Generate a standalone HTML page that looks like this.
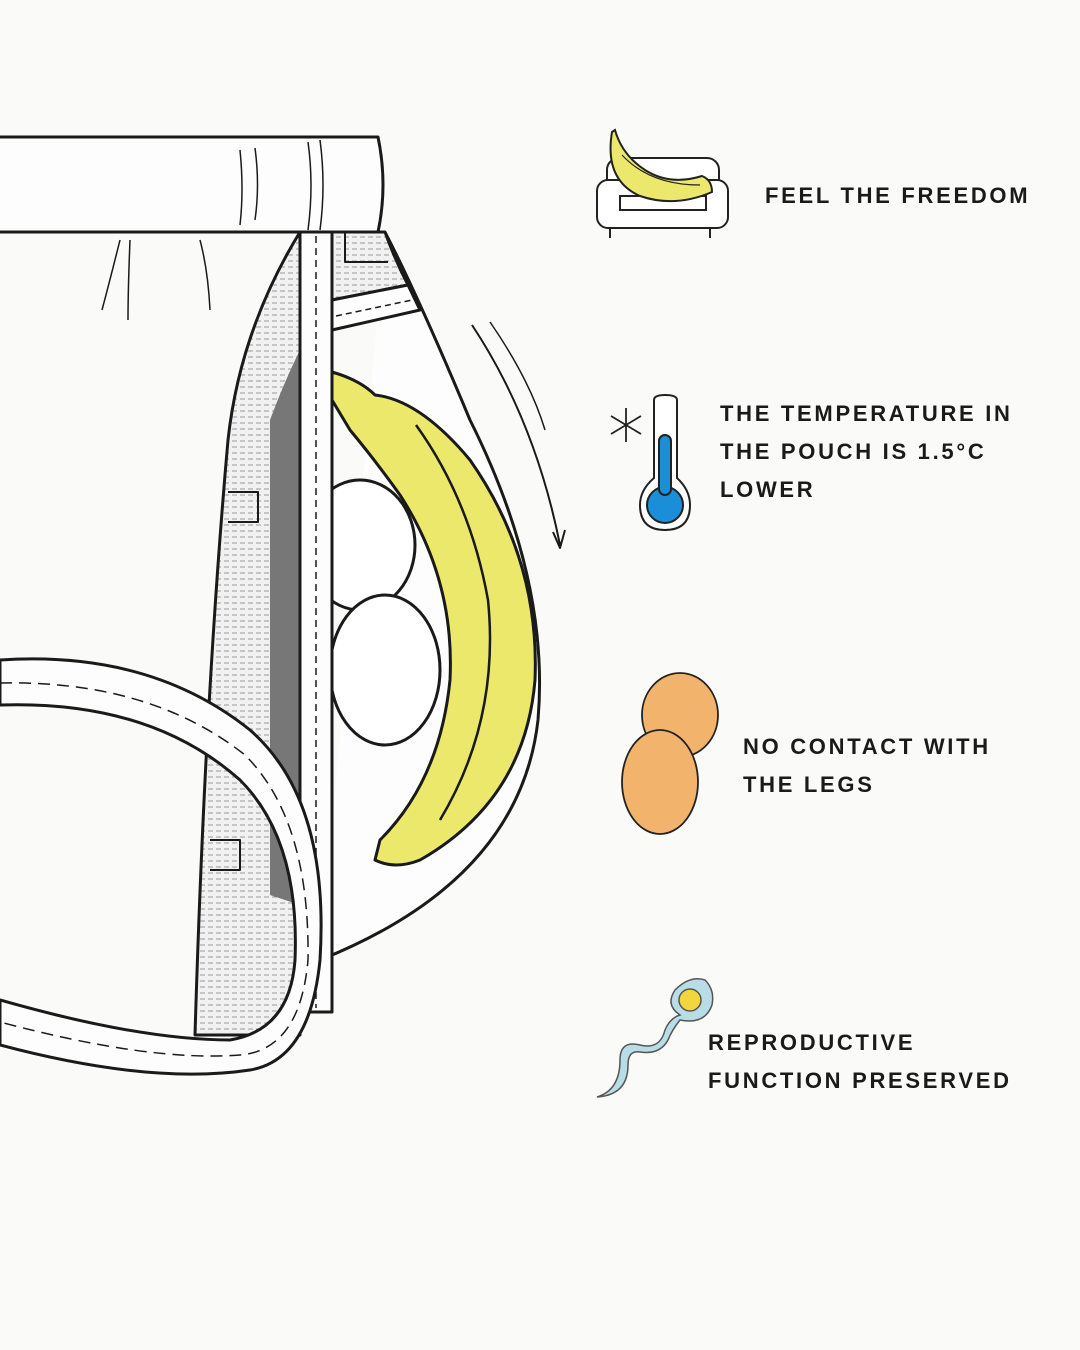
<!DOCTYPE html>
<html><head><meta charset="utf-8"><style>
html,body{margin:0;padding:0;background:#fafaf9;}
svg{display:block}
text{font-family:"Liberation Sans",sans-serif;font-weight:bold;font-size:22px;letter-spacing:2.7px;fill:#1a1a1a}
</style></head><body>
<svg width="1080" height="1350" viewBox="0 0 1080 1350" xmlns="http://www.w3.org/2000/svg">
<defs>
<pattern id="mesh" width="8" height="6" patternUnits="userSpaceOnUse">
<rect width="8" height="6" fill="#f1f1f1"/><line x1="0" y1="3" x2="5" y2="3" stroke="#999" stroke-width="1"/>
</pattern>
</defs>
<rect width="1080" height="1350" fill="#fafaf9"/>
<g stroke="#1a1a1a" stroke-width="3" fill="none" stroke-linejoin="round">
<!-- pouch outline -->
<path d="M385 232 Q420 300 470 420 Q550 580 538 720 Q520 880 320 960" fill="#fdfdfd"/>
<!-- upper pouch mesh -->
<path d="M332 232 L385 232 Q395 260 408 285 L332 300 Z" fill="url(#mesh)"/>
<path d="M332 300 L408 285 L420 310 L332 330 Z" fill="#fdfdfd"/>
<path d="M345 232 L345 262 L388 262" stroke-width="2"/>
<path d="M336 316 L412 300" stroke-width="1.5" stroke-dasharray="6 4"/>
<!-- left mesh -->
<path d="M300 232 Q240 330 228 440 Q205 700 195 1035 L300 1035 L300 232 Z" fill="url(#mesh)"/>
<path d="M270 420 Q285 380 300 350 L300 905 L270 895 Z" fill="#777" stroke="none"/>
<path d="M228 492 L258 492 L258 522 L228 522" stroke-width="2"/>
<path d="M210 840 L240 840 L240 870 L210 870" stroke-width="2"/>
<!-- eggs -->
<ellipse cx="360" cy="545" rx="55" ry="65" fill="#fff"/>
<ellipse cx="385" cy="670" rx="55" ry="75" fill="#fff"/>
<!-- fly strip -->
<rect x="300" y="232" width="32" height="780" fill="#fdfdfd"/>
<line x1="316" y1="236" x2="316" y2="1008" stroke-width="1.5" stroke-dasharray="7 5"/>
<!-- banana -->
<path d="M332 372 Q360 380 375 395 Q420 400 470 460 Q540 560 535 680 Q525 800 420 860 Q395 870 375 860 L380 840 Q440 780 450 680 Q455 580 400 495 Q375 460 350 430 L332 400 Z" fill="#ece86c"/>
<path d="M416 425 Q470 500 488 600 Q500 720 440 820" stroke-width="2.5"/>
<!-- waistband -->
<path d="M0 137 L378 137 Q388 185 378 232 L0 232" fill="#fdfdfd"/>
<path d="M320 140 Q326 185 320 230 M308 142 Q314 185 308 230 M240 150 Q244 190 240 225 M255 148 Q260 185 255 220" stroke-width="1.5"/>
<path d="M120 240 Q110 280 102 310 M130 240 Q128 290 128 320 M200 240 Q208 270 210 310" stroke-width="1.5"/>
<!-- leg band -->
<path d="M0 660 Q150 650 250 730 Q330 800 320 960 Q310 1060 250 1070 Q150 1085 0 1045 L0 1000 Q140 1040 230 1040 Q290 1030 295 960 Q300 840 240 780 Q150 700 0 705 Z" fill="#fdfdfd"/>
<path d="M0 683 Q150 680 245 755 Q310 820 308 960 Q300 1050 240 1055 Q150 1062 0 1022" stroke-width="1.5" stroke-dasharray="12 7"/>
<!-- arrow -->
<path d="M472 325 Q535 420 560 545" stroke-width="2"/>
<path d="M490 322 Q530 380 545 430" stroke-width="1.5"/>
<path d="M553 532 L560 548 L565 530" stroke-width="2"/>
</g>
<!-- sofa icon -->
<g stroke="#222" stroke-width="2" fill="#fff">
<rect x="607" y="158" width="112" height="42" rx="12"/>
<rect x="597" y="180" width="131" height="48" rx="11"/>
<rect x="620" y="196" width="86" height="14" />
<line x1="610" y1="228" x2="610" y2="238"/><line x1="710" y1="228" x2="710" y2="238"/>
<path d="M612 132 Q604 180 640 196 Q675 208 712 192 Q712 180 702 176 Q670 186 645 170 Q622 155 615 130 Z" fill="#ece86c"/>
<path d="M622 155 Q650 185 700 185" fill="none" stroke-width="1.2"/>
</g>
<!-- thermometer -->
<g stroke="#222" stroke-width="2">
<path d="M654 400 Q654 395 665 395 Q677 395 677 400 L677 478 Q690 490 690 505 Q690 530 665 530 Q640 530 640 505 Q640 490 654 478 Z" fill="#fff"/>
<circle cx="665" cy="505" r="18" fill="#1a8fd8"/>
<rect x="659" y="435" width="12" height="60" rx="6" fill="#1a8fd8"/>
<g stroke-width="1.8" fill="none"><line x1="626" y1="408" x2="626" y2="442"/><line x1="611" y1="416" x2="641" y2="434"/><line x1="611" y1="434" x2="641" y2="416"/></g>
</g>
<!-- eggs icon -->
<g stroke="#222" stroke-width="1.8" fill="#f2b36c">
<ellipse cx="680" cy="715" rx="38" ry="42"/>
<ellipse cx="660" cy="782" rx="38" ry="52"/>
</g>
<!-- sperm -->
<g stroke="#555" stroke-width="1.5" fill="#b9dde6">
<path d="M597 1097 Q620 1090 620 1060 Q620 1040 640 1045 Q660 1050 665 1030 Q670 1018 680 1015 Q665 1005 675 990 Q690 975 705 980 Q715 990 712 1005 Q705 1025 680 1020 Q672 1030 668 1040 Q660 1055 640 1052 Q628 1050 628 1065 Q628 1095 597 1097 Z"/>
<circle cx="690" cy="1000" r="11" fill="#f2d640"/>
</g>
<text x="765" y="203">FEEL THE FREEDOM</text>
<text x="720" y="421">THE TEMPERATURE IN</text>
<text x="720" y="459">THE POUCH IS 1.5°C</text>
<text x="720" y="497">LOWER</text>
<text x="743" y="754">NO CONTACT WITH</text>
<text x="743" y="792">THE LEGS</text>
<text x="708" y="1050">REPRODUCTIVE</text>
<text x="708" y="1088">FUNCTION PRESERVED</text>
</svg>
</body></html>
